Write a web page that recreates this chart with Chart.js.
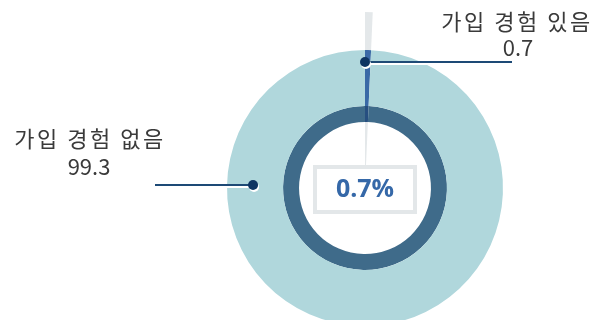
<!DOCTYPE html>
<html><head><meta charset="utf-8">
<script src="https://cdn.jsdelivr.net/npm/chart.js@4/dist/chart.umd.min.js"></script>
<style>
html,body{margin:0;padding:0;background:#fff;overflow:hidden;width:597px;height:320px;}
#wrap{position:relative;width:597px;height:376px;}
</style></head>
<body><div id="wrap"><canvas id="c" width="597" height="376"></canvas></div>
<script>
const categories = ['가입 경험 있음', '가입 경험 없음'];
const values = [0.7, 99.3];
const valueLabels = ['0.7', '99.3'];
const centerLabel = '0.7%';

const KFONT = '"Noto Sans CJK KR","Noto Sans",sans-serif';

const annotate = {
  id: 'annotate',
  beforeDatasetsDraw(chart) {
    const ctx = chart.ctx;
    const arc = chart.getDatasetMeta(0).data[0];
    const {x, y, startAngle, endAngle} = arc.getProps(['x','y','startAngle','endAngle'], true);
    const R = 176;
    ctx.save();
    ctx.fillStyle = '#e4e8ea';
    ctx.beginPath();
    ctx.moveTo(x, y);
    ctx.arc(x, y, R, startAngle, endAngle);
    ctx.closePath();
    ctx.fill();
    ctx.restore();
  },
  afterDatasetsDraw(chart) {
    const ctx = chart.ctx;
    const arcs = chart.getDatasetMeta(0).data;
    const a0 = arcs[0].getProps(['x','y','startAngle','endAngle','outerRadius','innerRadius'], true);
    const cx = a0.x, cy = a0.y, outR = a0.outerRadius;
    ctx.save();
    // center box
    ctx.fillStyle = '#ffffff';
    ctx.strokeStyle = '#e3e7e9';
    ctx.lineWidth = 4;
    ctx.fillRect(cx - 50, cy - 21, 100, 45);
    ctx.strokeRect(cx - 50, cy - 21, 100, 45);
    ctx.fillStyle = '#3568a8';
    ctx.font = 'bold 25px "Open Sans",sans-serif';
    ctx.textAlign = 'center';
    ctx.textBaseline = 'middle';
    ctx.fillText(centerLabel, cx, cy + 2);

    // leader points
    const pRight = {x: cx + (outR - 12) * Math.cos(a0.startAngle), y: cy + (outR - 12) * Math.sin(a0.startAngle)};
    const angL = Math.PI + 0.027;
    const pLeft = {x: cx + (outR - 26) * Math.cos(angL), y: cy + (outR - 26) * Math.sin(angL)};

    function leader(p, xEnd) {
      ctx.save();
      ctx.shadowColor = '#ffffff';
      ctx.shadowOffsetX = 1;
      ctx.shadowOffsetY = 2;
      ctx.shadowBlur = 0;
      ctx.strokeStyle = '#1d4a76';
      ctx.lineWidth = 2;
      ctx.beginPath();
      ctx.moveTo(p.x, p.y);
      ctx.lineTo(xEnd, p.y);
      ctx.stroke();
      ctx.fillStyle = '#0d3462';
      ctx.beginPath();
      ctx.arc(p.x, p.y, 5, 0, Math.PI * 2);
      ctx.fill();
      ctx.restore();
    }
    leader(pRight, 512);
    leader(pLeft, 155);

    ctx.fillStyle = '#3a3a3a';
    ctx.textAlign = 'center';
    ctx.textBaseline = 'middle';
    ctx.font = '22px ' + KFONT;
    ctx.letterSpacing = '2.5px';
    ctx.fillText(categories[0], 517, 22);
    ctx.fillText(categories[1], 90, 139);
    ctx.letterSpacing = '0px';
    ctx.fillText(valueLabels[0], 518, 48);
    ctx.fillText(valueLabels[1], 89, 167);
    ctx.restore();
  }
};

new Chart(document.getElementById('c'), {
  type: 'doughnut',
  data: {
    labels: categories,
    datasets: [
      {data: values, backgroundColor: ['#3a69a6', '#b0d7dc'], borderWidth: 0, weight: 56},
      {data: values, backgroundColor: ['#274f80', '#3f6b8a'], borderWidth: 0, weight: 16}
    ]
  },
  options: {
    responsive: false,
    animation: false,
    cutout: '47.8%',
    layout: {padding: {left: 227, right: 94, top: 50, bottom: 50}},
    plugins: {legend: {display: false}, tooltip: {enabled: false}}
  },
  plugins: [annotate]
});
</script></body></html>
